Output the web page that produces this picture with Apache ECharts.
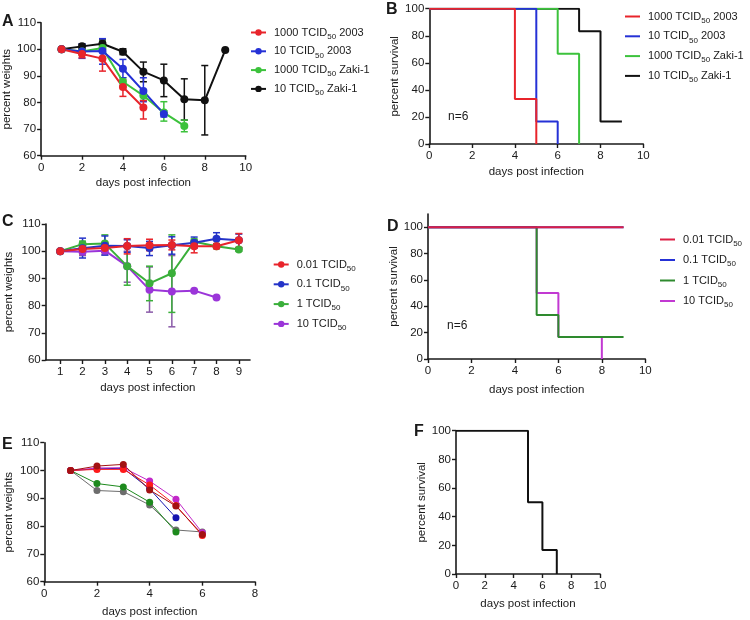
<!DOCTYPE html>
<html>
<head>
<meta charset="utf-8">
<script src="https://cdn.jsdelivr.net/npm/echarts@6/dist/echarts.min.js"></script>
<style>
  html, body { margin: 0; padding: 0; background: #fff; }
  #main { width: 750px; height: 620px; }
</style>
</head>
<body>
<div id="main"></div>
<script>
// ---- panel A : weights, SARS 2003 vs Zaki-1 ----
var aRed = [100, 98.2, 96.5, 85.8, 78.1];
var aRedErr = [[100, 100], [96.8, 99.5], [91.8, 101], [82.3, 88.5], [73.8, 80.7]];
var aBlue = [100, 99.2, 99.4, 92.7, 84.3, 75.7];
var aBlueErr = [[100, 100], [96.6, 102], [94.4, 104], [89.3, 96.2], [80.3, 89.3], [74.6, 76.9]];
var aGreen = [100, 99.2, 100.5, 87.8, 82.6, 76.2, 71.2];
var aGreenErr = [[100, 100], [98.5, 100], [99, 103], [86.3, 89.3], [80.8, 84.4], [73, 80.3], [69, 73.4]];
var aBlack = [100, 101.1, 102.1, 99.1, 91.6, 88.3, 81.2, 80.8, 99.7];
var aBlackErr = [[100, 100], [100.3, 102], [101, 103.5], [98, 100.2], [87.8, 95.2], [82.2, 94.4], [73.4, 88.9], [67.8, 93.9], [99.7, 99.7]];

// ---- panel B : survival (day of each step, percent after step) ----
var bRed = [[0, 100], [4, 33.3], [5, 0]];
var bBlue = [[0, 100], [5, 16.7], [6, 0]];
var bGreen = [[0, 100], [6, 66.7], [7, 0]];
var bBlack = [[0, 100], [7, 83.3], [8, 16.7], [9, 16.7]];

// ---- panel C : weights, dose titration ----
var cRed = [100, 100.8, 101.2, 101.9, 102.2, 102.3, 101.8, 101.8, 104];
var cRedErr = [[100, 100], [99, 102.5], [99.5, 103], [99, 104.6], [100.2, 104.4], [100.5, 104.1], [99.4, 103.5], [101, 102.8], [101.4, 106.5]];
var cBlue = [100, 101.1, 102, 101.9, 101.2, 102.2, 103.1, 104.6, 104];
var cBlueErr = [[100, 100], [97.5, 104.8], [98.6, 105.6], [99.6, 104.2], [98.4, 103.6], [98.9, 105.3], [101.1, 105.2], [102.5, 106.8], [101.2, 106.3]];
var cGreen = [100, 102.6, 102.8, 94.5, 88.2, 91.9, 103.5, 101.8, 100.6];
var cGreenErr = [[100, 100], [101.5, 103.7], [99.5, 106], [87.5, 101.5], [81.8, 94.5], [77.5, 106], [102.5, 104.5], [101, 102.6], [100, 101.2]];
var cPurple = [100, 99.8, 100.2, 94.5, 85.8, 85.2, 85.5, 83];
var cPurpleErr = [[100, 100], [98.4, 101.2], [98.6, 101.8], [88.6, 100], [77.6, 94.2], [72.2, 98.4], [85.5, 85.5], [83, 83]];

// ---- panel D : survival, dose titration ----
var dRed = [[0, 100], [9, 100]];
var dBlue = [[0, 100], [9, 100]];
var dGreen = [[0, 100], [5, 33.3], [6, 16.7], [9, 16.7]];
var dMagenta = [[0, 100], [5, 50], [6, 16.7], [8, 0]];

// ---- panel E : individual weights ----
var eDarkRed = [100, 101.6, 102.2, 93, 87.2, 77];
var eRed = [100, 100.4, 100.4, 94.8, 87.4, 76.6];
var eMagenta = [100, 100.9, 101, 96.2, 89.7, 77.6];
var eBlue = [100, 100.6, 100.8, 93.4, 83];
var eGreen = [100, 95.3, 94.1, 88.6, 77.9];
var eGray = [100, 92.8, 92.4, 87.6, 78.6, 77.9];

// ---- panel F : survival ----
var fBlack = [[0, 100], [5, 50], [6, 16.7], [7, 0]];

var cDays = [1, 2, 3, 4, 5, 6, 7, 8, 9];
var survTicks = [0, 20, 40, 60, 80, 100];

var FONT = '"Liberation Sans", Arial, Helvetica, sans-serif';
var INK = '#1a1a1a';

var RED = '#e8242b', BLUE = '#2531d6', GREEN = '#3cc23c', BLACK = '#111111';
var C_RED = '#e8242b', C_BLUE = '#2433c8', C_GREEN = '#3aaf3a', C_PURPLE = '#9b35d9';
var D_RED = '#dc1f45', D_GREEN = '#2e8a2e', D_MAG = '#c239d2';

var chart = echarts.init(document.getElementById('main'));

function gridBox(left, top, right, bottom) {
  return { left: left, top: top, width: right - left, height: bottom - top, containLabel: false };
}

var grids = [
  gridBox(40, 22.7, 245.7, 155.7),    // A
  gridBox(429.3, 8.7, 643.3, 144),    // B
  gridBox(45.7, 224, 250, 360),       // C
  gridBox(428, 214, 645.3, 359),      // D
  gridBox(44.3, 442.7, 255, 581.7),   // E
  gridBox(456, 430.7, 600, 574)       // F
];

function axisCommon() {
  return {
    axisLine: { show: true, onZero: false, lineStyle: { color: INK, width: 1.6 } },
    axisTick: { show: true, length: 4, lineStyle: { color: INK, width: 1.4 } },
    splitLine: { show: false },
    nameTextStyle: { color: INK, fontSize: 11.5, fontFamily: FONT }
  };
}

function xAx(gi, min, max, interval, gap, customVals) {
  var a = axisCommon();
  a.type = 'value';
  a.gridIndex = gi;
  a.min = min; a.max = max;
  if (interval) a.interval = interval;
  a.name = 'days post infection';
  a.nameLocation = 'middle';
  a.nameGap = gap;
  a.axisLabel = { color: INK, fontSize: 11.5, fontFamily: FONT, margin: 6 };
  if (customVals) {
    a.axisLabel.customValues = customVals;
    a.axisTick.customValues = customVals;
  }
  return a;
}

function yAx(gi, min, max, interval, name, gap, customVals) {
  var a = axisCommon();
  a.type = 'value';
  a.gridIndex = gi;
  a.min = min; a.max = max;
  if (interval) a.interval = interval;
  a.name = name;
  a.nameLocation = 'middle';
  a.nameGap = gap;
  a.axisLabel = { color: INK, fontSize: 11.5, fontFamily: FONT, margin: 5 };
  if (customVals) {
    a.axisLabel.customValues = customVals;
    a.axisTick.customValues = customVals;
  }
  return a;
}

var xAxes = [
  xAx(0, 0, 10, 2, 21),
  xAx(1, 0, 10, 2, 22),
  xAx(2, 0.35, 9.5, null, 22, cDays),
  xAx(3, 0, 10, 2, 25),
  xAx(4, 0, 8, 2, 24),
  xAx(5, 0, 10, 2, 24)
];
var yAxes = [
  yAx(0, 60, 110, 10, 'percent weights', 26),
  yAx(1, 0, 100, 20, 'percent survival', 28),
  yAx(2, 60, 110, 10, 'percent weights', 31),
  yAx(3, 0, 110, null, 'percent survival', 28, survTicks),
  yAx(4, 60, 110, 10, 'percent weights', 29),
  yAx(5, 0, 100, 20, 'percent survival', 28)
];

function pairs(days, vals) {
  var out = [];
  for (var i = 0; i < vals.length; i++) out.push([days[i], vals[i]]);
  return out;
}
function dayList(n) {
  var d = [];
  for (var i = 1; i <= n; i++) d.push(i);
  return d;
}

function weightLine(name, gi, vals, color, lw, size) {
  return {
    name: name, type: 'line', xAxisIndex: gi, yAxisIndex: gi,
    data: pairs(dayList(vals.length), vals),
    symbol: 'circle', symbolSize: size, showSymbol: true,
    lineStyle: { color: color, width: lw },
    itemStyle: { color: color },
    z: 3, animation: false
  };
}

function errorBars(gi, errs, color) {
  var data = [];
  for (var i = 0; i < errs.length; i++) data.push([i + 1, errs[i][0], errs[i][1]]);
  return {
    type: 'custom', xAxisIndex: gi, yAxisIndex: gi, data: data,
    encode: { x: 0, y: [1, 2] }, z: 2, animation: false, silent: true,
    renderItem: function (params, api) {
      var x = api.value(0);
      var lo = api.coord([x, api.value(1)]);
      var hi = api.coord([x, api.value(2)]);
      var w = 3.5;
      var st = { stroke: color, lineWidth: 1.5, fill: null };
      return {
        type: 'group',
        children: [
          { type: 'line', shape: { x1: lo[0], y1: lo[1], x2: hi[0], y2: hi[1] }, style: st },
          { type: 'line', shape: { x1: lo[0] - w, y1: lo[1], x2: lo[0] + w, y2: lo[1] }, style: st },
          { type: 'line', shape: { x1: hi[0] - w, y1: hi[1], x2: hi[0] + w, y2: hi[1] }, style: st }
        ]
      };
    }
  };
}

function stepLine(name, gi, data, color, z) {
  return {
    name: name, type: 'line', xAxisIndex: gi, yAxisIndex: gi,
    data: data, step: 'end', symbol: 'none', showSymbol: false,
    lineStyle: { color: color, width: 2 },
    itemStyle: { color: color },
    z: z, animation: false
  };
}

var series = [
  // A
  errorBars(0, aBlackErr, BLACK),
  errorBars(0, aGreenErr, GREEN),
  errorBars(0, aBlueErr, BLUE),
  errorBars(0, aRedErr, RED),
  weightLine('A:10 TCID50 Zaki-1', 0, aBlack, BLACK, 2, 8),
  weightLine('A:1000 TCID50 Zaki-1', 0, aGreen, GREEN, 2, 8),
  weightLine('A:10 TCID50 2003', 0, aBlue, BLUE, 2, 8),
  weightLine('A:1000 TCID50 2003', 0, aRed, RED, 2, 8),
  // B
  stepLine('B:10 TCID50 Zaki-1', 1, bBlack, BLACK, 2),
  stepLine('B:1000 TCID50 Zaki-1', 1, bGreen, GREEN, 3),
  stepLine('B:10 TCID50 2003', 1, bBlue, BLUE, 4),
  stepLine('B:1000 TCID50 2003', 1, bRed, RED, 5),
  // C
  errorBars(2, cPurpleErr, '#8a5aa8'),
  errorBars(2, cGreenErr, C_GREEN),
  errorBars(2, cBlueErr, C_BLUE),
  errorBars(2, cRedErr, C_RED),
  weightLine('C:10 TCID50', 2, cPurple, C_PURPLE, 2, 8),
  weightLine('C:1 TCID50', 2, cGreen, C_GREEN, 2, 8),
  weightLine('C:0.1 TCID50', 2, cBlue, C_BLUE, 2, 8),
  weightLine('C:0.01 TCID50', 2, cRed, C_RED, 2, 8),
  // D
  stepLine('D:10 TCID50', 3, dMagenta, D_MAG, 2),
  stepLine('D:1 TCID50', 3, dGreen, D_GREEN, 3),
  stepLine('D:0.1 TCID50', 3, dBlue, BLUE, 4),
  stepLine('D:0.01 TCID50', 3, dRed, D_RED, 5),
  // E
  weightLine('E:gray', 4, eGray, '#6d6d6d', 1, 7),
  weightLine('E:green', 4, eGreen, '#1d8a1d', 1, 7),
  weightLine('E:blue', 4, eBlue, '#1414b0', 1, 7),
  weightLine('E:magenta', 4, eMagenta, '#c227c9', 1, 7),
  weightLine('E:red', 4, eRed, '#ff1a1a', 1, 7),
  weightLine('E:darkred', 4, eDarkRed, '#a31212', 1, 7),
  // F
  stepLine('F:all', 5, fBlack, BLACK, 3)
];

function legendText(name) {
  var s = name.replace(/^[A-F]:/, '');
  var m = s.match(/^(.*?)TCID50(.*)$/);
  if (!m) return '{n|' + s + '}';
  return '{n|' + m[1] + 'TCID}{s|50}{n|' + m[2] + '}';
}

// lineOnly: survival legends show a plain line, no marker
function legendBox(left, top, gap, names, lineOnly) {
  var data = names.map(function (n) {
    return lineOnly ? { name: n, icon: 'rect' } : { name: n };
  });
  return {
    orient: 'vertical', left: left, top: top, padding: 0,
    itemWidth: 15, itemHeight: lineOnly ? 2 : 8, itemGap: gap,
    data: data, selectedMode: false,
    formatter: legendText,
    textStyle: {
      color: INK, fontFamily: FONT, padding: [0, 0, 0, 3],
      rich: {
        n: { fontSize: 11, lineHeight: 16, fontFamily: FONT, color: INK },
        s: { fontSize: 8, lineHeight: 10, fontFamily: FONT, color: INK, verticalAlign: 'bottom', padding: [4, 0, 0, 0] }
      }
    }
  };
}

var legends = [
  legendBox(250, 27, 5.3, ['A:1000 TCID50 2003', 'A:10 TCID50 2003', 'A:1000 TCID50 Zaki-1', 'A:10 TCID50 Zaki-1'], false),
  legendBox(625, 11, 6.3, ['B:1000 TCID50 2003', 'B:10 TCID50 2003', 'B:1000 TCID50 Zaki-1', 'B:10 TCID50 Zaki-1'], true),
  legendBox(272.7, 259, 6.3, ['C:0.01 TCID50', 'C:0.1 TCID50', 'C:1 TCID50', 'C:10 TCID50'], false),
  legendBox(660, 234, 7, ['D:0.01 TCID50', 'D:0.1 TCID50', 'D:1 TCID50', 'D:10 TCID50'], true)
];

function tag(text, x, y, size, bold) {
  return {
    type: 'text', left: x, top: y, silent: true,
    style: { text: text, fill: INK, font: (bold ? 'bold ' : '') + size + 'px ' + FONT }
  };
}

var option = {
  backgroundColor: '#ffffff',
  animation: false,
  grid: grids,
  xAxis: xAxes,
  yAxis: yAxes,
  legend: legends,
  series: series,
  graphic: [
    tag('A', 2, 14, 16, true),
    tag('B', 386, 2, 16, true),
    tag('C', 2, 214, 16, true),
    tag('D', 387, 219, 16, true),
    tag('E', 2, 437, 16, true),
    tag('F', 414, 424, 16, true),
    tag('n=6', 448, 111, 12, false),
    tag('n=6', 447, 320, 12, false)
  ]
};

chart.setOption(option);
</script>
</body>
</html>
